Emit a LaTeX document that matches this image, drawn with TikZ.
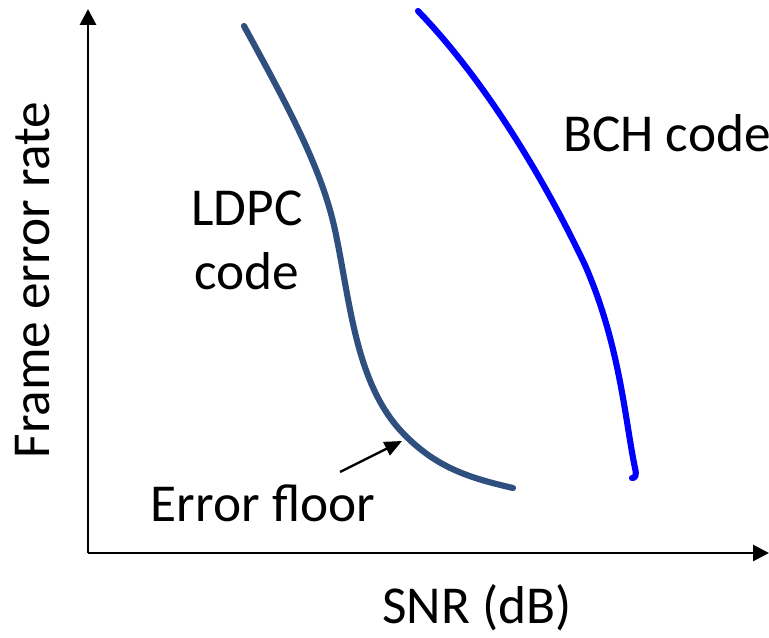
\documentclass[tikz,border=0pt]{standalone}
\usepackage{fontspec}
\setmainfont{Carlito}
\usetikzlibrary{arrows.meta}
\definecolor{ldpcblue}{HTML}{2F4F7F}
\definecolor{bchblue}{HTML}{0000FF}
\tikzset{
  axis/.style={line width=2.2pt, -{Triangle[length=12pt,width=12pt]}},
  curve/.style={line width=4.6pt, line cap=round},
  lbl/.style={font=\fontsize{40}{48}\selectfont, inner sep=0pt, align=center},
  pointer/.style={line width=1.8pt, -{Triangle[length=13pt,width=11pt]}}
}
\begin{document}
\begin{tikzpicture}[x=0.75pt,y=-0.75pt]
  \useasboundingbox (0,0) rectangle (769,638);
  % axes
  \coordinate (O) at (88,553);
  \coordinate (ytop) at (88,9);
  \coordinate (xend) at (769,553);
  \draw[axis] (O) -- (ytop);
  \draw[axis] (O) -- (xend);
  % LDPC curve
  \draw[curve, ldpcblue] (244,26) .. controls (290,110) and (322,170) .. (335,230)
     .. controls (350,300) and (355,380) .. (400,430)
     .. controls (435,468) and (470,478) .. (513,488);
  % BCH curve
  \draw[curve, bchblue] (418,11) .. controls (480,75) and (540,170) .. (585,265)
     .. controls (620,345) and (625,420) .. (635,468)
     .. controls (637,476) and (635,478) .. (632,478);
  % labels
  \node[lbl] (bch) at (667,133) {BCH code};
  \node[lbl] (ldpc) at (247,240) {LDPC\\code};
  \node[lbl] (floor) at (263,503) {Error floor};
  \node[lbl] (snr) at (477,608) {SNR (dB)};
  \node[lbl, rotate=90] (fer) at (33,280) {Frame error rate};
  % error floor pointer
  \coordinate (ptail) at (340,472);
  \coordinate (phead) at (402,441);
  \draw[pointer] (ptail) -- (phead);
\end{tikzpicture}
\end{document}
